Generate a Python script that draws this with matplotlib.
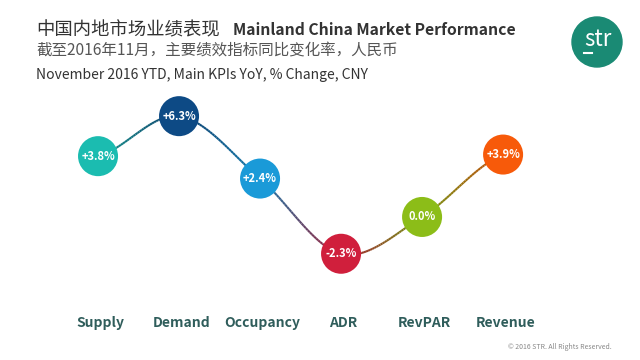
import numpy as np
import matplotlib.pyplot as plt
from matplotlib.collections import LineCollection
from matplotlib.colors import to_rgb
from matplotlib.patches import Ellipse
from matplotlib.lines import Line2D

plt.rcParams['font.family'] = ['Noto Sans CJK SC', 'DejaVu Sans']

kpis = ['Supply', 'Demand', 'Occupancy', 'ADR', 'RevPAR', 'Revenue']
changes = [3.8, 6.3, 2.4, -2.3, 0.0, 3.9]
value_labels = ['+3.8%', '+6.3%', '+2.4%', '-2.3%', '0.0%', '+3.9%']
colors = ['#1bbcb0', '#0d4a85', '#1a9ad8', '#d01f3c', '#8cbd18', '#f75a0a']

fig = plt.figure(figsize=(6.4, 3.6), dpi=100)
fig.patch.set_facecolor('white')
ax = fig.add_axes([0, 0, 1, 1])
x = np.arange(len(kpis))
ax.set_xlim(-1.21, 6.69)
ax.set_ylim(-8.94, 13.56)
ax.axis('off')

# smooth connecting curve (Catmull-Rom through the points), colour blended between circles
px = np.concatenate([[x[0] - 1], x, [x[-1] + 1]]).astype(float)
py = np.concatenate([[changes[0]], changes, [changes[-1]]]).astype(float)
segs, segcols = [], []
for i in range(1, len(px) - 2):
    t = np.linspace(0, 1, 40)[:, None]
    p0, p1, p2, p3 = [np.array([px[j], py[j]]) for j in (i - 1, i, i + 1, i + 2)]
    pts = 0.5 * ((2 * p1) + (-p0 + p2) * t + (2 * p0 - 5 * p1 + 4 * p2 - p3) * t**2
                 + (-p0 + 3 * p1 - 3 * p2 + p3) * t**3)
    c1, c2 = np.array(to_rgb(colors[i - 1])), np.array(to_rgb(colors[i]))
    for k in range(len(pts) - 1):
        segs.append(pts[k:k + 2])
        f = (k + 0.5) / (len(pts) - 1)
        segcols.append((c1 * (1 - f) + c2 * f) * 0.8)
ax.add_collection(LineCollection(segs, colors=segcols, linewidths=1.5, zorder=1))

ax.scatter(x, changes, s=830, c=colors, zorder=2, linewidths=0)
for xi, v, lab in zip(x, changes, value_labels):
    ax.text(xi, v, lab, color='white', fontsize=8, fontweight='bold',
            ha='center', va='center', zorder=3)

for xi, name in zip(x, kpis):
    ax.text(xi + 0.03, -6.6, name, color='#2f5d5b', fontsize=10, fontweight='bold',
            ha='center', va='center')

# titles
fig.text(36 / 640, 1 - 30 / 360, '中国内地市场业绩表现', fontsize=13.2, color='#333333', va='center')
fig.text(233 / 640, 1 - 30 / 360, 'Mainland China Market Performance', fontsize=11.3,
         color='#333333', fontweight='bold', va='center')
fig.text(36 / 640, 1 - 51 / 360, '截至2016年11月，主要绩效指标同比变化率，人民币', fontsize=11.2,
         color='#555555', va='center')
fig.text(36 / 640, 1 - 75 / 360, 'November 2016 YTD, Main KPIs YoY, % Change, CNY', fontsize=10,
         color='#333333', va='center')

# logo
fig.patches.append(Ellipse((597 / 640, 1 - 42 / 360), 50 / 640, 50 / 360,
                           transform=fig.transFigure, color='#1a8a74', figure=fig))
fig.text(598 / 640, 1 - 40 / 360, 'str', fontsize=16, color='white', ha='center', va='center')
fig.lines.append(Line2D([584 / 640, 592 / 640], [1 - 53 / 360, 1 - 53 / 360],
                        transform=fig.transFigure, color='white', linewidth=1.5, figure=fig))

fig.text(0.955, 0.035, '© 2016 STR. All Rights Reserved.', fontsize=5, color='#888888',
         ha='right', va='center')

plt.savefig('out.png', dpi=100)
plt.close()
